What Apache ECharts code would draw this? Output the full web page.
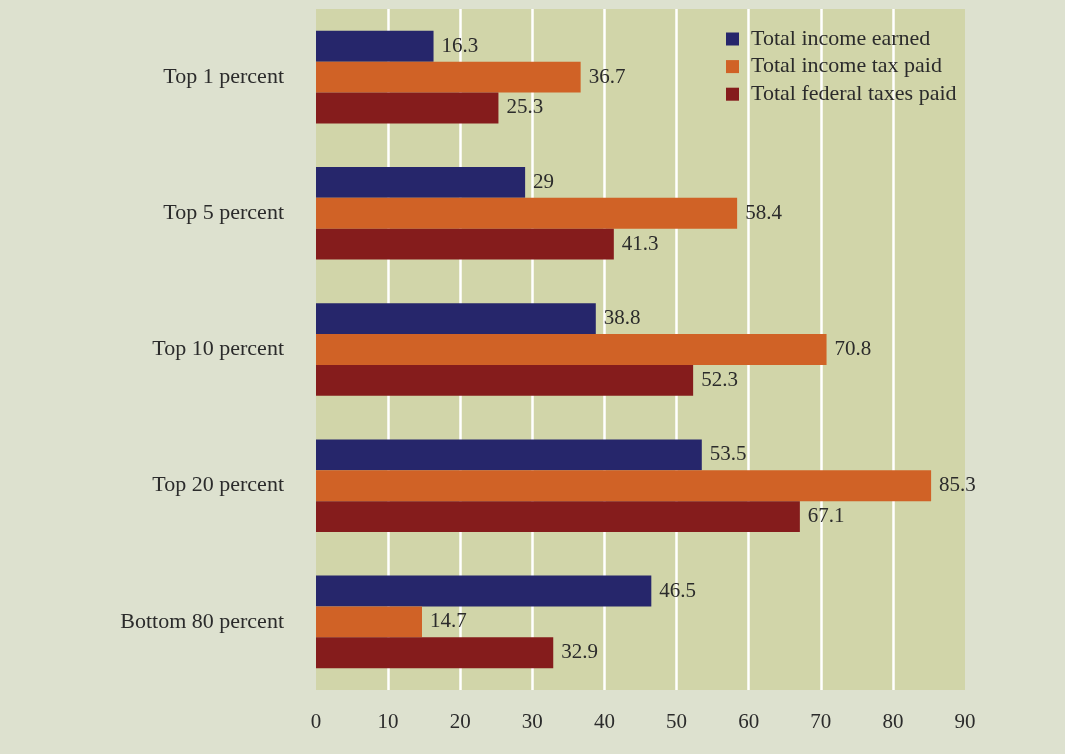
<!DOCTYPE html>
<html>
<head>
<meta charset="utf-8">
<script src="https://cdn.jsdelivr.net/npm/echarts@6/dist/echarts.min.js"></script>
<style>
  html, body { margin: 0; padding: 0; background: #dde1cf; }
  #chart { width: 1065px; height: 754px; }
</style>
</head>
<body>
<div id="chart"></div>
<script>
// Income groups, listed top to bottom
const categories = ['Top 1 percent', 'Top 5 percent', 'Top 10 percent', 'Top 20 percent', 'Bottom 80 percent'];
// Shares (percent) for each group
const incomeEarned = [16.3, 29, 38.8, 53.5, 46.5];
const incomeTaxPaid = [36.7, 58.4, 70.8, 85.3, 14.7];
const federalTaxesPaid = [25.3, 41.3, 52.3, 67.1, 32.9];
const xTicks = [0, 10, 20, 30, 40, 50, 60, 70, 80, 90];

const serif = '"Liberation Serif", "DejaVu Serif", serif';
const textColor = '#2b2b2b';
const plotColor = '#d1d5a9';

// White grid lines between the ends; none at 0 or at 90
const gridColors = xTicks.map((v, i) => (i === 0 || i === xTicks.length - 1) ? 'rgba(0,0,0,0)' : '#ffffff');

function barSeries(name, data, color) {
  return {
    name: name,
    type: 'bar',
    data: data,
    barGap: '0%',
    barCategoryGap: '32%',
    itemStyle: { color: color },
    label: {
      show: true,
      position: 'right',
      distance: 8,
      color: textColor,
      fontFamily: serif,
      fontSize: 21
    }
  };
}

const chart = echarts.init(document.getElementById('chart'));
chart.setOption({
  backgroundColor: '#dde1cf',
  animation: false,
  grid: {
    left: 316, right: 100, top: 9, bottom: 64,
    show: true, backgroundColor: plotColor, borderWidth: 0
  },
  legend: {
    orient: 'vertical',
    left: 726, top: 28,
    padding: 0,
    icon: 'rect',
    itemWidth: 13, itemHeight: 13, itemGap: 5.6,
    textStyle: {
      fontFamily: serif, fontSize: 22, color: textColor,
      padding: [0, 0, 0, 7]
    },
    data: ['Total income earned', 'Total income tax paid', 'Total federal taxes paid']
  },
  xAxis: {
    type: 'value',
    min: xTicks[0],
    max: xTicks[xTicks.length - 1],
    interval: 10,
    axisLine: { show: false },
    axisTick: { show: false },
    axisLabel: {
      margin: 22,
      color: textColor,
      fontFamily: serif,
      fontSize: 21,
      formatter: v => (xTicks.includes(v) ? String(v) : '')
    },
    splitLine: { show: true, lineStyle: { color: gridColors, width: 2.5 } }
  },
  yAxis: {
    type: 'category',
    inverse: true,
    data: categories,
    axisLine: { show: false },
    axisTick: { show: false },
    axisLabel: {
      margin: 32,
      color: textColor,
      fontFamily: serif,
      fontSize: 22
    }
  },
  series: [
    barSeries('Total income earned', incomeEarned, '#26266b'),
    barSeries('Total income tax paid', incomeTaxPaid, '#d06226'),
    barSeries('Total federal taxes paid', federalTaxesPaid, '#851c1c')
  ]
});
</script>
</body>
</html>
